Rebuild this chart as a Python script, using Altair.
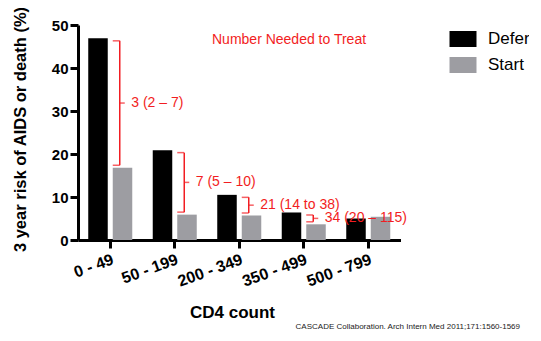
import altair as alt
import pandas as pd

categories = ["0 - 49", "50 - 199", "200 - 349", "350 - 499", "500 - 799"]
defer_vals = [46.9, 20.9, 10.5, 6.4, 5.0]
start_vals = [16.8, 5.9, 5.7, 3.65, 5.4]
groups = ["Defer", "Start"]
nnt_labels = ["3 (2 \u2013 7)", "7 (5 \u2013 10)", "21 (14 to 38)", "34 (20 \u2013 115)"]

RED = "#f21d22"
FONT = "Liberation Sans"

bars = pd.DataFrame(
    [{"cat": c, "grp": "Defer", "val": d} for c, d in zip(categories, defer_vals)]
    + [{"cat": c, "grp": "Start", "val": s} for c, s in zip(categories, start_vals)]
)
brackets = pd.DataFrame({
    "cat": categories[:4],
    "top": defer_vals[:4],
    "bot": start_vals[:4],
    "label": nnt_labels,
})

xenc = alt.X(
    "cat:N", sort=categories,
    scale=alt.Scale(paddingInner=0, paddingOuter=0),
    axis=alt.Axis(
        title="CD4 count", labelAngle=340, labelAlign="right", labelBaseline="top",
        labelFont=FONT, labelFontSize=16, labelFontWeight="bold", labelColor="black",
        labelPadding=3, tickSize=8, tickWidth=3, tickColor="black",
        domainWidth=3, domainColor="black",
        titleFont=FONT, titleFontSize=17, titleFontWeight="bold", titleColor="black",
        titleX=154, titleY=72, titleAlign="center", titleBaseline="middle",
    ),
)
xoff = alt.XOffset("grp:N", sort=groups,
                   scale=alt.Scale(paddingInner=0.204, paddingOuter=0.418))
yscale = alt.Scale(domain=[0, 50], nice=False)

bar_layer = alt.Chart(bars).mark_bar().encode(
    x=xenc,
    xOffset=xoff,
    y=alt.Y("val:Q", scale=yscale, axis=alt.Axis(
        title="3 year risk of AIDS or death (%)", values=[0, 10, 20, 30, 40, 50],
        grid=False, labelFont=FONT, labelFontSize=15, labelFontWeight="bold",
        labelColor="black", labelPadding=2, tickSize=8, tickWidth=3, tickColor="black",
        domainWidth=3, domainColor="black",
        titleFont=FONT, titleFontSize=16.5, titleFontWeight="bold", titleColor="black",
        titleX=-58, titleY=104, titleAngle=270, titleAlign="center", titleBaseline="middle",
    )),
    color=alt.Color("grp:N", sort=groups,
                    scale=alt.Scale(domain=groups, range=["#000000", "#9d9da2"]),
                    legend=alt.Legend(
                        title=None, orient="none", legendX=376.5, legendY=5.5,
                        padding=0, symbolType="M-1.6875,-1L1.6875,-1L1.6875,1L-1.6875,1Z",
                        symbolSize=256, symbolStrokeWidth=0, labelOffset=16.5,
                        labelFont=FONT, labelFontSize=17, labelColor="black",
                        rowPadding=8,
                    )),
)

base = alt.Chart(brackets).encode(x=alt.X("cat:N", sort=categories))

vert = base.mark_rule(color=RED, strokeWidth=1.5, xOffset=9.5, yOffset=2.5, y2Offset=-2.5).encode(
    y=alt.Y("top:Q", scale=yscale), y2="bot:Q")
top_serif = base.mark_tick(color=RED, thickness=1.5, size=7, orient="horizontal",
                           xOffset=6, yOffset=2.5).encode(y=alt.Y("top:Q", scale=yscale))
bot_serif = base.mark_tick(color=RED, thickness=1.5, size=7, orient="horizontal",
                           xOffset=6, yOffset=-2.5).encode(y=alt.Y("bot:Q", scale=yscale))
mid = base.transform_calculate(mid="(datum.top + datum.bot) / 2")
mid_tick = mid.mark_tick(color=RED, thickness=1.5, size=5, orient="horizontal",
                         xOffset=12).encode(y=alt.Y("mid:Q", scale=yscale))
labels = mid.mark_text(color=RED, font=FONT, fontSize=14, align="left", baseline="middle",
                       dx=21).encode(y=alt.Y("mid:Q", scale=yscale), text="label:N")

annot = alt.Chart(pd.DataFrame({"t": ["Number Needed to Treat"]})).mark_text(
    color=RED, font=FONT, fontSize=14, align="left", baseline="middle"
).encode(x=alt.value(134), y=alt.value(15), text="t:N")

foot = alt.Chart(pd.DataFrame({"t": ["CASCADE Collaboration. Arch Intern Med 2011;171:1560-1569"]})).mark_text(
    color="#222222", font=FONT, fontSize=8, align="right", baseline="middle"
).encode(x=alt.value(442), y=alt.value(302), text="t:N")

chart = alt.layer(bar_layer, vert, top_serif, bot_serif, mid_tick, labels, annot, foot).properties(
    width=322.5, height=215,
    autosize=alt.AutoSizeParams(type="none"),
    padding={"left": 70, "top": 17, "right": 128, "bottom": 92},
).configure_view(stroke=None).configure_axis(grid=False)

chart.save("out.html", embed_options={"renderer": "svg", "actions": False})
